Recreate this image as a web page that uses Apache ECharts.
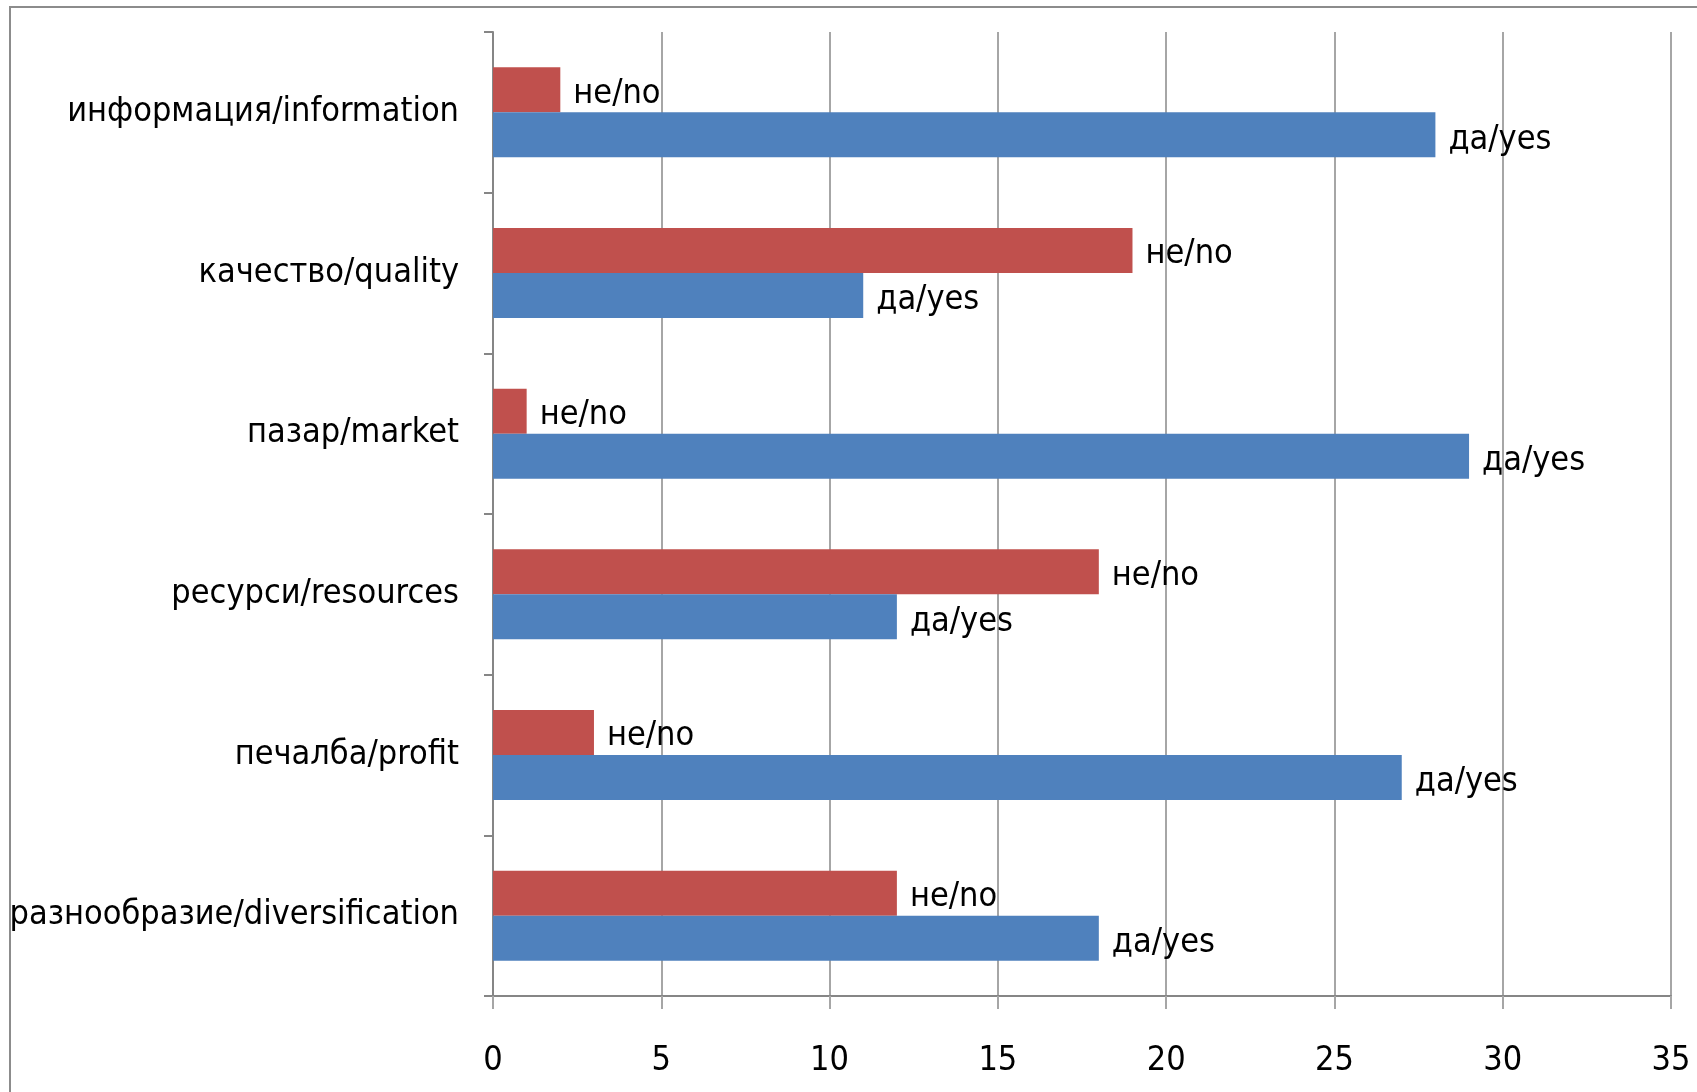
<!DOCTYPE html>
<html>
<head>
<meta charset="utf-8">
<script src="https://cdn.jsdelivr.net/npm/echarts@6/dist/echarts.min.js"></script>
<style>
  html, body { margin: 0; padding: 0; background: #ffffff; }
  #chart { width: 1697px; height: 1092px; }
</style>
</head>
<body>
<div id="chart"></div>
<script>
// Categories, listed top to bottom
const categories = [
  'информация/information',
  'качество/quality',
  'пазар/market',
  'ресурси/resources',
  'печалба/profit',
  'разнообразие/diversification'
];
const noValues = [2, 19, 1, 18, 3, 12];
const yesValues = [28, 11, 29, 12, 27, 18];
const noLabel = 'не/no';
const yesLabel = 'да/yes';
const xTicks = [0, 5, 10, 15, 20, 25, 30, 35];

const FONT = '"Liberation Sans Narrow", "DejaVu Sans Condensed", sans-serif';
const FS = 34;

const chart = echarts.init(document.getElementById('chart'), null, { renderer: 'canvas' });

chart.setOption({
  animation: false,
  backgroundColor: '#ffffff',
  graphic: [{
    type: 'rect',
    shape: { x: 10, y: 7, width: 1800, height: 1200 },
    style: { fill: 'none', stroke: '#8c8c8c', lineWidth: 2 },
    silent: true
  }],
  grid: {
    left: 493, right: 26, top: 32, bottom: 96,
    containLabel: false,
    outerBoundsMode: 'none'
  },
  xAxis: {
    type: 'value',
    min: xTicks[0],
    max: xTicks[xTicks.length - 1],
    interval: 5,
    axisLine: { show: true, lineStyle: { color: '#868686', width: 2 } },
    axisTick: { show: true, length: 13, lineStyle: { color: '#a6a6a6', width: 2 } },
    splitLine: { show: true, lineStyle: { color: '#a6a6a6', width: 2 } },
    axisLabel: { color: '#000', fontFamily: FONT, fontSize: FS, margin: 48 }
  },
  yAxis: {
    type: 'category',
    data: categories,
    inverse: true,
    axisLine: { show: true, lineStyle: { color: '#868686', width: 2 } },
    axisTick: { show: true, length: 9, inside: false, alignWithLabel: false, lineStyle: { color: '#868686', width: 2 } },
    splitLine: { show: false },
    axisLabel: {
      color: '#000', fontFamily: FONT, fontSize: FS, margin: 34,
      padding: [4, 0, 0, 0]
    }
  },
  series: [
    {
      name: noLabel,
      type: 'bar',
      data: noValues,
      barWidth: 45,
      barGap: '0%',
      itemStyle: { color: '#C0504D' },
      label: {
        show: true, position: 'right', distance: 13, offset: [0, 4],
        formatter: noLabel, color: '#000', fontFamily: FONT, fontSize: FS
      }
    },
    {
      name: yesLabel,
      type: 'bar',
      data: yesValues,
      barWidth: 45,
      barGap: '0%',
      itemStyle: { color: '#4F81BD' },
      label: {
        show: true, position: 'right', distance: 13, offset: [0, 5],
        formatter: yesLabel, color: '#000', fontFamily: FONT, fontSize: FS
      }
    }
  ]
});
</script>
</body>
</html>
